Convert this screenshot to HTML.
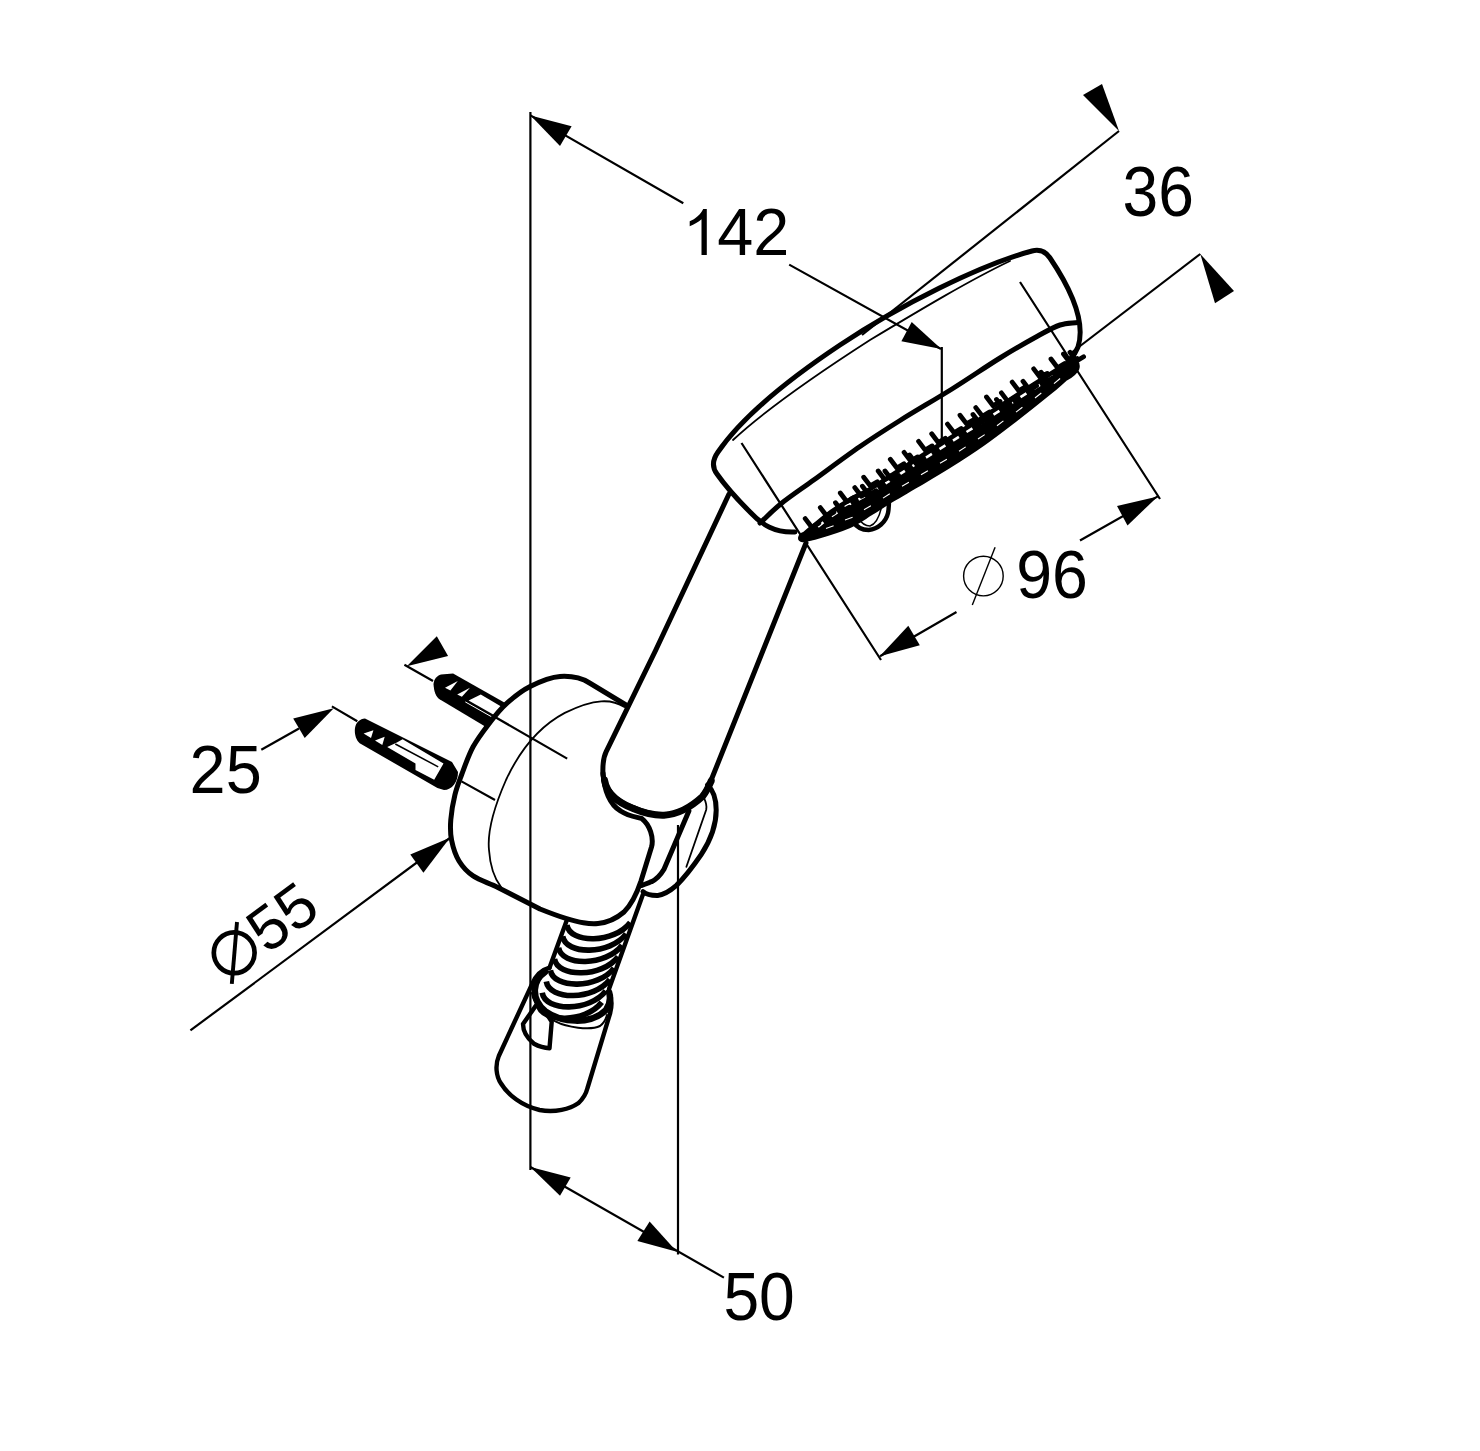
<!DOCTYPE html>
<html><head><meta charset="utf-8"><title>drawing</title>
<style>
html,body{margin:0;padding:0;background:#fff;}
body{width:1480px;height:1451px;overflow:hidden;}
svg{display:block;}
text{font-family:"Liberation Sans",sans-serif;font-size:64px;fill:#000;}
</style></head>
<body>
<svg width="1480" height="1451" viewBox="0 0 1480 1451">
<rect width="1480" height="1451" fill="#fff"/>
<!-- DIMENSIONS -->
<g id="dims" fill="none" stroke="#000" stroke-width="2.2" stroke-linecap="butt">
  <path d="M530.4,112 V1170"/>
  <path d="M678,825 V1254.5"/>
  <path d="M530.5,115.4 L683.3,203.3 M789.2,264.6 L941,349"/>
  <path d="M941.8,347 V445"/>
  <path d="M1119,131 L862,335"/>
  <path d="M1200.3,254 L1071,353"/>
  <path d="M741.5,443 L881,660 M1020,282 L1160,499"/>
  <path d="M880,656.2 L956.5,612 M1080,540.5 L1157.8,496.4"/>
  <path d="M404.4,664.8 L433,681 M495,717 L567.2,758.6"/>
  <path d="M331.9,706.4 L357.3,721.3 M461.5,781.4 L495,800"/>
  <path d="M261.3,749.7 L299,728.5"/>
  <path d="M190.4,1030.4 L449.9,838"/>
  <path d="M530.4,1167 L723.9,1277.6"/>
</g>
<g id="arrows" fill="#000" stroke="none">
  <polygon points="530.5,115.4 571.6,126.2 560,146"/>
  <polygon points="941.3,348.9 911.7,322 901.4,341.3"/>
  <polygon points="1119,131 1083,95 1102,84"/>
  <polygon points="1200.3,254 1234,291 1215,303.3"/>
  <polygon points="879.8,656.2 908.3,625.7 919.8,645.3"/>
  <polygon points="1157.8,496.4 1117,506 1127.5,525.4"/>
  <polygon points="333.8,708.2 293.2,718.4 304.7,738"/>
  <polygon points="406.8,666.2 436.8,636.2 448.1,656"/>
  <polygon points="449.9,837.8 410.3,854.4 423.4,872.8"/>
  <polygon points="530.4,1167 570.7,1177.5 560,1195.7"/>
  <polygon points="676.9,1251.8 637.4,1241 649.6,1221.5"/>
</g>
<!-- TEXT -->
<g id="texts">
  <path d="M701.5,255.1 L706.8,255.1 L706.8,208.9 L703.2,208.9 C700.5,214.5 695.5,218.8 689.7,221.2 L689.7,226.2 C694.2,224.4 698.6,221.8 701.5,219.3 Z" fill="#000"/>
  <g transform="translate(717.3,254.7) scale(1.012,1.05)"><text x="0" y="0">42</text></g>
  <g transform="translate(1122.5,215.7) scale(1.003,1.087)"><text x="0" y="0">36</text></g>
  <g transform="translate(1016.3,598.3) scale(1.006,1.081)"><text x="0" y="0">96</text></g>
  <g transform="translate(189.6,792.6) scale(1.013,1.067)"><text x="0" y="0">25</text></g>
  <g transform="translate(723.4,1320.3) scale(1.003,1.077)"><text x="0" y="0">50</text></g>
  <g fill="none" stroke="#000" stroke-width="1.4">
    <circle cx="983.4" cy="576.1" r="19.8"/>
    <path d="M995.1,547.2 L972.3,605"/>
  </g>
  <g transform="translate(190.4,1030.4) rotate(-36.32) translate(106.5,-15.65) scale(0.973,0.973)"><text x="0" y="0">55</text></g>
  <circle cx="234.2" cy="952.8" r="20.4" fill="none" stroke="#000" stroke-width="4.7"/>
  <path d="M237,922 L231.8,983.8" stroke="#000" stroke-width="3.9" fill="none"/>
</g>
<!-- HOSE -->
<g id="hose" fill="none" stroke="#000" stroke-width="4.4" stroke-linecap="round" stroke-linejoin="round">
  <path d="M566.7,920.5 L549.5,967.7"/>
  <path d="M642.9,894.5 L609,989"/>
  <path d="M566.9,925.0 C569.9,944.0 614.3,943.5 630.3,922.5 M562.7,936.3 C565.7,955.3 610.2,954.9 626.2,933.9 M558.6,947.6 C561.6,966.6 606.1,966.3 622.1,945.3 M554.5,958.9 C557.5,977.9 602.1,977.7 618.1,956.7 M550.4,970.2 C553.4,989.2 598.0,989.1 614.0,968.1 M546.3,981.5 C549.3,1000.5 593.9,1000.5 609.9,979.5 M542.2,992.8 C545.2,1011.8 589.8,1011.9 605.8,990.9 M538.0,1004.1 C541.0,1023.1 585.7,1023.3 601.7,1002.3" stroke-width="5.6" stroke-linecap="butt"/>
  <!-- cone -->
  <path d="M549.5,967.7 C541,970 535,977 531.9,984.3 L498.8,1056 C495,1065 496,1076 501,1083.5 C508,1095 522,1106 539.6,1110 C555,1113 570,1109 578.2,1103.3 C583,1099 586,1094 587.5,1088 L610.2,1013 C612,1006 612,998 609,992"/>
  <path d="M545,972 C533,980 530,998 545,1011 C560,1022 590,1026 606,1010 C610,1004 611,998 609,992" stroke-width="6.5"/>
  <path d="M531.9,993 C534,1005 545,1017 556,1021.7 C566,1027 590,1031 600,1026 C604,1023 606,1019 606.9,1015" stroke-width="2"/>
  <path d="M523,1024 L536.3,1005 C541,1007 547,1014 551.7,1021.7 L549.5,1048.2 C543,1048 538,1046 534,1043.8 C527,1038 523,1031 523,1024 Z"/>
</g>
<!-- ANCHORS -->
<g id="anchors">
  <path d="M365,718.5 L452,762 L458,772 C458,782 452,790 444,790 L437.4,788 L361,744 C357,742 354,735 355,728 C356,722 360,719 365,718.5 Z" fill="#000"/>
  <polygon points="396.9,742.4 402.6,739.2 443.5,763.5 434.2,779.7 415.5,770 415.5,763.5 387.2,746.9" fill="#fff"/>
  <path d="M395.3,744 L438.2,766.8" stroke="#000" stroke-width="1.5"/>
  <polygon points="363.6,733.5 373.4,730.3 371,738" fill="#fff"/>
  <polygon points="375,740.4 384.7,736.8 382.3,744.9" fill="#fff"/>
  <path d="M453.1,673.5 L507,704 L486,727 L439.6,699.2 C436,697 434,692 433.5,684 C434,679 437,675.5 441,674.5 Z" fill="#000"/>
  <polygon points="468.6,700.5 480.8,694.5 501.1,706.6 493.7,714.7" fill="#fff"/>
  <polygon points="445,687.7 457.8,681 450.4,690.4" fill="#fff"/>
  <polygon points="457.2,694.5 470,687.7 461.9,696.8" fill="#fff"/>
  <path d="M465.3,701.9 L491.6,716.8" stroke="#fff" stroke-width="1"/>
</g>
<!-- NOZZLE BAND -->
<g id="nozz" fill="none" stroke="#000" stroke-linecap="round" stroke-linejoin="round">
  <path d="M804.0,533.0 C812.0,526.3 820.5,518.7 828.0,513.0 C835.5,507.3 842.0,503.2 849.0,499.0 C856.0,494.8 863.2,492.0 870.0,488.0 C876.8,484.0 882.5,479.8 890.0,475.0 C897.5,470.2 906.3,464.5 915.0,459.0 C923.7,453.5 931.2,448.8 942.0,442.0 C952.8,435.2 967.0,426.3 980.0,418.0 C993.0,409.7 1007.8,399.8 1020.0,392.0 C1032.2,384.2 1044.8,376.2 1053.0,371.0 C1061.2,365.8 1063.7,364.3 1069.0,361.0 C1075,357 1080,363 1078,369 C1076,374 1071,377 1065.5,380 C1060.3,384.5 1058.2,386.7 1050.0,393.4 C1041.8,400.1 1027.6,411.4 1016.4,420.0 C1005.2,428.6 994.1,437.2 983.0,445.0 C971.9,452.8 960.7,460.0 949.5,467.0 C938.3,474.0 925.3,481.5 916.0,487.0 C906.7,492.5 901.2,495.5 893.8,500.0 C886.4,504.5 878.9,509.5 871.5,514.0 C864.1,518.5 858.5,523.0 849.2,527.0 C839.9,531.0 823.5,536.0 815.7,538.3 C807.9,540.6 806.8,540.1 802.4,541.0 C798,541 798,535 804,533 Z" fill="#000" stroke="#000" stroke-width="2.5"/>
  <path d="M818.0,526.8 l5.4,-4.5 M831.5,516.2 l5.8,-3.9 M845.0,507.2 l5.8,-3.9 M858.5,499.5 l6.2,-3.2 M872.0,492.2 l5.9,-3.8 M885.5,483.4 l5.9,-3.8 M899.0,474.7 l5.9,-3.8 M912.5,466.1 l5.9,-3.8 M926.0,457.6 l5.9,-3.7 M939.5,449.1 l5.9,-3.7 M953.0,440.6 l5.9,-3.7 M966.5,432.0 l5.9,-3.7 M980.0,423.5 l5.9,-3.8 M993.5,414.7 l5.9,-3.8 M1007.0,405.9 l5.9,-3.8 M1020.5,397.2 l5.9,-3.8 M1034.0,388.6 l5.9,-3.8 M1047.5,380.0 l5.9,-3.8" stroke="#fff" stroke-width="2.6" stroke-linecap="butt"/>
  <path d="M826.0,528.4 l7.6,-2.6 M845.0,519.9 l7.6,-2.6 M864.0,509.7 l6.9,-4.0 M883.0,498.1 l6.8,-4.3 M902.0,486.3 l6.9,-4.0 M921.0,474.8 l6.9,-4.1 M940.0,463.3 l6.9,-4.1 M959.0,451.3 l6.7,-4.4 M978.0,439.0 l6.7,-4.4 M997.0,425.7 l6.4,-4.8 M1016.0,412.1 l6.4,-4.8 M1035.0,398.0 l6.3,-5.0 M1054.0,383.7 l6.1,-5.2" stroke="#fff" stroke-width="1.1" stroke-linecap="butt"/>
  <path d="M805.2,518.6 l6.6,8.7 l7,-4.2 M820.3,507.6 l6.6,8.7 l7,-4.2 M835.5,502.7 l6.6,8.7 l7,-4.2 M840.3,493.0 l6.6,8.7 l7,-4.2 M854.8,487.6 l6.6,8.7 l7,-4.2 M862.4,486.2 l6.6,8.7 l7,-4.2 M863.7,477.2 l6.6,8.7 l7,-4.2 M878.2,471.0 l6.6,8.7 l7,-4.2 M885.0,471.0 l6.6,8.7 l7,-4.2 M890.3,459.3 l6.6,8.7 l7,-4.2 M904.1,452.4 l6.6,8.7 l7,-4.2 M909.6,455.0 l6.6,8.7 l7,-4.2 M918.6,441.4 l6.6,8.7 l7,-4.2 M931.7,433.8 l6.6,8.7 l7,-4.2 M947.5,424.1 l6.6,8.7 l7,-4.2 M960.0,415.2 l6.6,8.7 l7,-4.2 M973.0,414.5 l6.6,8.7 l7,-4.2 M975.8,407.6 l6.6,8.7 l7,-4.2 M986.5,397.0 l6.6,8.7 l7,-4.2 M996.5,399.5 l6.6,8.7 l7,-4.2 M1001.4,392.9 l6.6,8.7 l7,-4.2 M1012.2,382.1 l6.6,8.7 l7,-4.2 M1023.0,381.3 l6.6,8.7 l7,-4.2 M1033.7,368.9 l6.6,8.7 l7,-4.2 M1041.1,372.2 l6.6,8.7 l7,-4.2 M1051.0,359.0 l6.6,8.7 l7,-4.2 M1063.5,354.0 l6.6,8.7 l7,-4.2 M1070.0,352.3 l6.6,8.7 l7,-4.2" stroke-width="4.8"/>
  <path d="M852.7,521 C857,528 862,530 868.6,530 C878,529 886,522 888,513 C889,508 889,504 889,500" stroke-width="4.4"/>
  <path d="M858,518 C862,524 866,526 870,526 C876,524 880,515 882,505" stroke-width="1.5"/>
</g>
<!-- OBJECT -->
<g id="obj" fill="none" stroke="#000" stroke-width="5" stroke-linecap="round" stroke-linejoin="round">
  <!-- showerhead outer -->
  <path d="M795,532 C775,533 762,525 750,512 C736,498 724,484 717,474 C711,466 713,459 718,452 C740,420 780,385 840,345 C900,305 980,265 1032,251 C1040,249 1046,252 1050,258 C1075,295 1085,325 1078,347 C1076,352 1073,356 1071,358"/>
  <!-- face ellipse top edge -->
  <path d="M760.0,523.0 C767.1,516.5 772.2,510.8 781.3,503.5 C790.4,496.2 801.3,489.0 814.4,479.5 C827.5,470.0 845.7,456.3 860.0,446.5 C874.3,436.7 884.7,430.1 900.0,420.5 C915.3,410.9 935.3,399.4 952.0,389.0 C968.7,378.6 985.7,366.8 1000.0,358.0 C1014.3,349.2 1027.8,341.5 1037.8,336.0 C1047.8,330.5 1053.3,327.2 1060.0,325.0 C1066.7,322.8 1072.0,323.3 1078.0,322.5"/>
  <!-- handle -->
  <path d="M729,494 L655.8,650 L606.2,751.7 C603,758 602.5,765 603,775 C605,790 615,800 633,807.3 C645,813 655,815 664,814.7 C678,814 690,808 702.5,796.1 C707,790 709,785 711.2,780 L806,543"/>
  <path d="M626,705 L589.6,683 C579.6,676.7 569.9,675.9 560.0,676.5 C550.1,677.1 539.1,682.0 530.1,686.5 C521.1,691.0 513.0,697.7 506.2,703.8 C499.4,709.9 495.1,715.7 489.6,722.9 C484.1,730.1 477.8,738.1 473.1,746.8 C468.4,755.5 464.5,767.0 461.5,775.0 C458.5,783.0 456.7,787.4 454.9,794.8 C453.1,802.2 451.4,812.0 450.8,819.6 C450.2,827.2 450.2,833.4 451.6,840.3 C453.0,847.2 455.4,855.1 459.0,861.0 C462.6,866.9 466.6,871.5 473.1,875.9 C479.6,880.3 489.2,883.1 497.9,887.4 L540,909 C555,915 570,921 583.4,922.7 C588,923.5 592,924 598,923.5 C608,922.5 617,918 624,912 C632,904 637,893 641,881 L651.5,847 C654,838 650,825 641.7,818.5 C636,817 628,816 620.6,811 C610,805 604,790 603,773"/>
  <path d="M604.5,780 C607,794 618,803 633,808.5 C645,813.5 655,815.5 664,815.2 C678,814.5 690,808 702.5,796.5 C707,791 709,786 711.2,781" stroke-width="7"/>
  <path d="M707.5,785 C713,790 716.2,798.6 716.2,810 C716.2,823 712,838 701.3,854.4 C692,868 684,878 676.5,885.4 C670,891 663,895 657.8,895.4 C652,895.5 647,895 643,891.6"/>
  <path d="M688.9,811 L664,869.3 C660,876 655,880 651.6,881.7 C648,883 645,884 641.7,885.4"/>
</g>
<g id="thin" fill="none" stroke="#000" stroke-width="1.8" stroke-linecap="round">
  <path d="M733,440 C760,415 800,385 870,340 C920,310 970,280 1010,261"/>
  <path d="M624.4,707 C612,699 595,698 564.8,712.9 C540,726 520,750 506,780 C495,805 487,830 489,850 C490,865 494,878 501.2,887.4"/>
  <path d="M703.7,797.4 C706,802 707,806 706.2,809.8 L686.4,866.8"/>
</g>
</svg>
</body></html>
